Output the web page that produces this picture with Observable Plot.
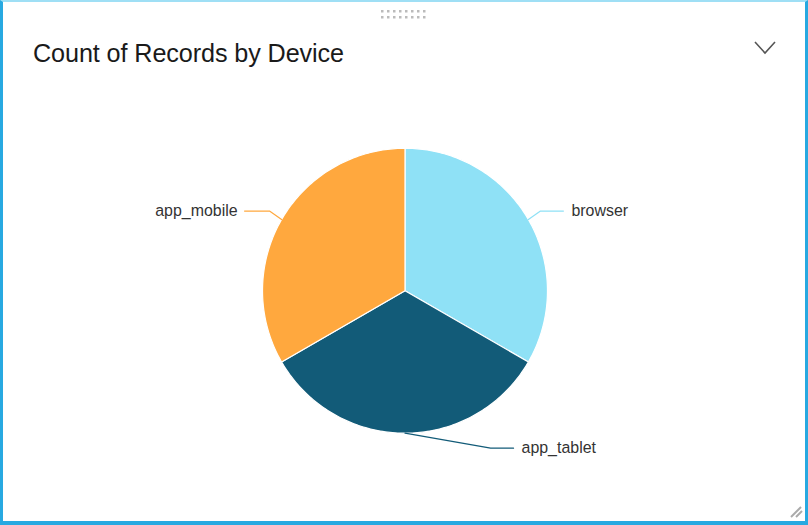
<!DOCTYPE html>
<html>
<head>
<meta charset="utf-8">
<script src="https://cdn.jsdelivr.net/npm/d3@7"></script>
<script src="https://cdn.jsdelivr.net/npm/@observablehq/plot@0.6"></script>
<style>
  html, body { margin: 0; padding: 0; background: #fff; }
  #card {
    position: absolute; left: 0; top: 0; width: 808px; height: 525px;
    box-sizing: border-box; background: #fff;
    border-left: 3px solid #27a9e1; border-right: 3px solid #27a9e1;
    border-bottom: 4px solid #27a9e1; border-top: 2px solid #9fdff5;
    font-family: "Liberation Sans", Arial, Helvetica, sans-serif;
    overflow: hidden;
  }
  #handle { position: absolute; left: 375px; top: 6px; width: 50px; height: 12px; }
  #title { position: absolute; left: 30px; top: 37px; font-size: 25.2px; color: #1a1a1a; letter-spacing: -0.1px; }
  #chev { position: absolute; left: 748px; top: 36px; }
  #grip { position: absolute; left: 782px; top: 498px; }
  #plot { position: absolute; left: -3px; top: 86px; }
</style>
</head>
<body>
<div id="card">
  <svg id="handle" width="50" height="12"></svg>
  <div id="title">Count of Records by Device</div>
  <svg id="chev" width="28" height="20"><polyline points="4,4 14,15 24,4" fill="none" stroke="#555" stroke-width="1.6"/></svg>
  <svg id="grip" width="20" height="20"><line x1="6" y1="17" x2="16" y2="7" stroke="#aaa" stroke-width="2"/><line x1="11" y1="17" x2="17" y2="11" stroke="#aaa" stroke-width="2"/></svg>
  <div id="plot"></div>
</div>
<script>
// ---- data ----
const categories = ["browser", "app_tablet", "app_mobile"];
const counts = [1, 1, 1];
const colors = ["#8fe1f6", "#125b78", "#ffa83e"];

// drag handle dots (decoration)
const hs = d3.select("#handle");
for (let r = 0; r < 2; r++) for (let c = 0; c < 8; c++)
  hs.append("rect").attr("x", 3 + c * 6).attr("y", 2 + r * 6).attr("width", 2.5).attr("height", 2.5).attr("fill", "#bbb");

// ---- layout ----
const W = 808, H = 420;
const CX = 406, CY = 203;  // pie centre in svg pixels
const R = 143;
// label leader layout (in units of radius, y up): elbow point, line end, text x
const labelLayout = {
  browser:    {elbow: [0.951, 0.559], end: [1.112, 0.559], tx: 1.168, anchor: "start"},
  app_tablet: {elbow: [0.601, -1.105], end: [0.762, -1.105], tx: 0.818, anchor: "start"},
  app_mobile: {elbow: [-0.951, 0.559], end: [-1.126, 0.559], tx: -1.175, anchor: "end"}
};

const data = categories.map((c, i) => ({category: c, count: counts[i], color: colors[i]}));
const arcs = d3.pie().value(d => d.count).sort(null)(data);

// slice polygons (angles from top, clockwise)
const slicePts = [];
arcs.forEach(a => {
  const n = 120;
  slicePts.push({k: a.data.category, x: 0, y: 0});
  for (let i = 0; i <= n; i++) {
    const t = a.startAngle + (a.endAngle - a.startAngle) * i / n;
    slicePts.push({k: a.data.category, x: Math.sin(t), y: Math.cos(t)});
  }
  slicePts.push({k: a.data.category, x: 0, y: 0});
});

const leaderPts = [];
const labels = [];
arcs.forEach(a => {
  const m = (a.startAngle + a.endAngle) / 2;
  const L = labelLayout[a.data.category];
  leaderPts.push({k: a.data.category, x: Math.sin(m), y: Math.cos(m)});
  leaderPts.push({k: a.data.category, x: L.elbow[0], y: L.elbow[1]});
  leaderPts.push({k: a.data.category, x: L.end[0], y: L.end[1]});
  labels.push({k: a.data.category, x: L.tx, y: L.end[1], anchor: L.anchor});
});

const colorScale = {domain: categories, range: colors};

const plot = Plot.plot({
  width: W, height: H,
  margin: 0,
  x: {domain: [-CX / R, (W - CX) / R], axis: null},
  y: {domain: [-(H - CY) / R, CY / R], axis: null},
  color: colorScale,
  style: {background: "transparent", fontFamily: "Liberation Sans, Arial, sans-serif"},
  marks: [
    Plot.line(slicePts, {x: "x", y: "y", z: "k", fill: "k", stroke: "#ffffff", strokeWidth: 1.2, curve: "linear"}),
    Plot.line(leaderPts, {x: "x", y: "y", z: "k", stroke: "k", strokeWidth: 1.2, curve: "linear"}),
    Plot.text(labels.filter(d => d.anchor === "start"), {x: "x", y: "y", text: "k", textAnchor: "start", fontSize: 16, fill: "#333"}),
    Plot.text(labels.filter(d => d.anchor === "end"), {x: "x", y: "y", text: "k", textAnchor: "end", fontSize: 16, fill: "#333"})
  ]
});
document.getElementById("plot").appendChild(plot);
</script>
</body>
</html>
